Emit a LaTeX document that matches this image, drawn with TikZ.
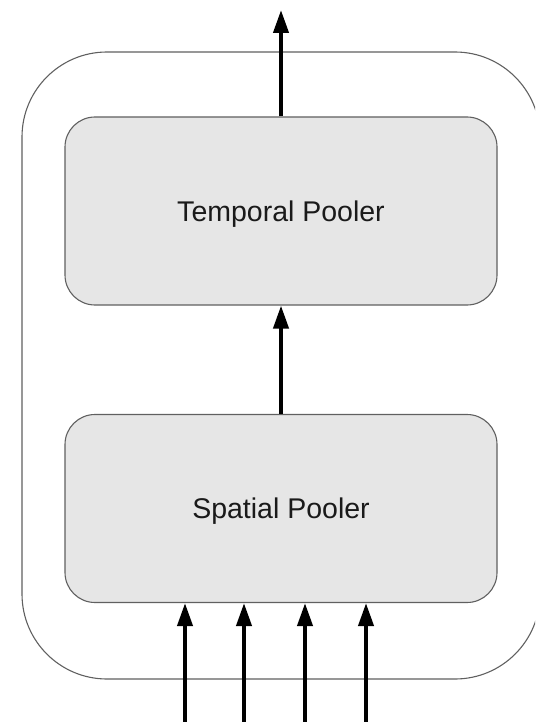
\documentclass[tikz,border=0pt]{standalone}
\usepackage{fontspec}
\setmainfont{Liberation Sans}
\usetikzlibrary{arrows.meta}
\definecolor{boxfill}{HTML}{E6E6E6}
\definecolor{boxline}{HTML}{606060}
\definecolor{labeltext}{HTML}{1A1A1A}
\tikzset{
  x=1pt, y=1pt,
  container/.style={draw=boxline, line width=1.1pt, rounded corners=85pt,
    minimum width=518pt, minimum height=627pt, inner sep=0pt},
  pooler/.style={draw=boxline, fill=boxfill, line width=1.1pt, rounded corners=30pt,
    minimum width=432pt, minimum height=188pt, inner sep=0pt,
    text height=20.5pt, text depth=0pt,
    font=\fontsize{28.5}{33}\selectfont, text=labeltext},
  flow/.style={line width=4pt, -{Triangle[width=15pt,length=23pt]}}
}
\begin{document}
\begin{tikzpicture}
  \useasboundingbox (0,0) rectangle (535,-722);
  \begin{scope}
    \clip (0,0) rectangle (535,-722);
    \node[container] (outer) at (281,-365.5) {};
  \end{scope}
  \node[pooler] (tp) at (281,-211) {Temporal Pooler};
  \node[pooler] (sp) at (281,-508.5) {Spatial Pooler};
  \coordinate (out) at (281,-10);
  \coordinate (in1) at (185,-724);
  \coordinate (in2) at (244,-724);
  \coordinate (in3) at (305,-724);
  \coordinate (in4) at (366,-724);
  \draw[flow] (tp.north) -- (out);
  \draw[flow] (sp.north) -- (tp.south);
  \foreach \i in {in1,in2,in3,in4}
    \draw[flow] (\i) -- (\i |- sp.south);
\end{tikzpicture}
\end{document}
